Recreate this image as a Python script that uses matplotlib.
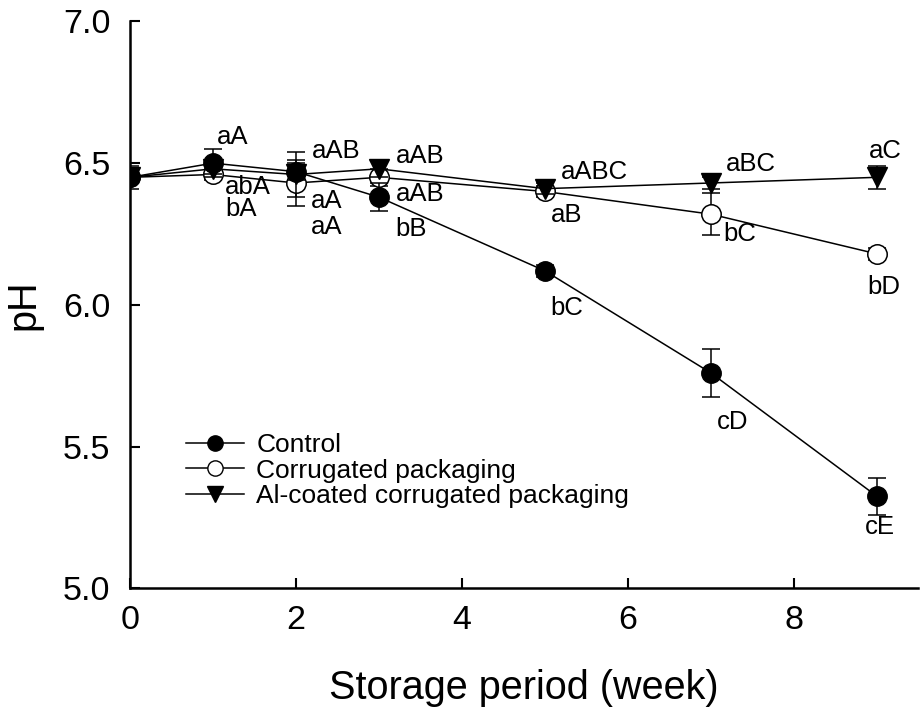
import numpy as np
import matplotlib.pyplot as plt
from matplotlib.lines import Line2D

plt.rcParams['font.family'] = ['Liberation Sans', 'DejaVu Sans']

weeks = [0, 1, 2, 3, 5, 7, 9]

control = [6.45, 6.50, 6.47, 6.38, 6.12, 5.76, 5.325]
control_err = [0.04, 0.05, 0.03, 0.05, 0.02, 0.085, 0.065]
control_lab = ["", "aA", "aA", "bB", "bC", "cD", "cE"]

corr = [6.45, 6.46, 6.43, 6.45, 6.40, 6.32, 6.18]
corr_err = [0.02, 0.02, 0.08, 0.03, 0.02, 0.075, 0.02]
corr_lab = ["", "bA", "aA", "aAB", "aB", "bC", "bD"]

alc = [6.45, 6.48, 6.46, 6.48, 6.41, 6.43, 6.45]
alc_err = [0.02, 0.02, 0.08, 0.03, 0.02, 0.02, 0.04]
alc_lab = ["", "abA", "aAB", "aAB", "aABC", "aBC", "aC"]

# label offsets in points (dx, dy)
control_off = [(0, 0), (14, 19), (22, -40), (23, -23), (16, -27), (16, -35), (2, -22)]
corr_off = [(0, 0), (20, -25), (22, -13), (30, -12), (16, -17), (21, -14), (5, -24)]
alc_off = [(0, 0), (25, -13), (29, 17), (30, 9), (36, 12), (29, 14), (6, 19)]

fig = plt.figure(figsize=(9.22, 7.14), dpi=100)
ax = fig.add_axes([0.141, 0.176, 0.855, 0.794])

kw = dict(color='black', lw=1.1, ms=14, capsize=6.5, elinewidth=1.1, capthick=1.1)
ax.errorbar(weeks, corr, yerr=corr_err, marker='o', mfc='white', mec='black', mew=1.1,
            zorder=3, **kw)
ax.errorbar(weeks, alc, yerr=alc_err, marker='v', mfc='black', mec='black',
            zorder=4, **kw)
ax.errorbar(weeks, control, yerr=control_err, marker='o', mfc='black', mec='black',
            zorder=5, **kw)

for ys, labs, offs in [(control, control_lab, control_off), (corr, corr_lab, corr_off),
                       (alc, alc_lab, alc_off)]:
    for x, y, t, o in zip(weeks, ys, labs, offs):
        if t:
            ax.annotate(t, (x, y), xytext=o, textcoords='offset points',
                        ha='center', va='center', fontsize=18.5)

ax.set_xlim(0, 9.5)
ax.set_ylim(5.0, 7.0)
ax.set_xticks([0, 2, 4, 6, 8])
ax.set_yticks([5.0, 5.5, 6.0, 6.5, 7.0])
ax.set_yticklabels(['5.0', '5.5', '6.0', '6.5', '7.0'])
ax.tick_params(direction='in', length=7, width=1.5, labelsize=24.5)
ax.tick_params(axis='y', pad=14)
ax.tick_params(axis='x', pad=12)
for s in ['top', 'right']:
    ax.spines[s].set_visible(False)
for s in ['left', 'bottom']:
    ax.spines[s].set_linewidth(1.8)
ax.set_xlabel('Storage period (week)', fontsize=28.5, labelpad=24)
ax.set_ylabel('pH', fontsize=28.5, labelpad=15)

handles = [
    Line2D([], [], color='black', lw=1.1, marker='o', ms=11, mfc='black', mec='black'),
    Line2D([], [], color='black', lw=1.1, marker='o', ms=11, mfc='white', mec='black'),
    Line2D([], [], color='black', lw=1.1, marker='v', ms=11, mfc='black', mec='black'),
]
labels = ['Control', 'Corrugated packaging', 'Al-coated corrugated packaging']
ax.legend(handles, labels, loc='upper left', bbox_to_anchor=(0.058, 0.292),
          frameon=False, fontsize=19, handlelength=2.2, handletextpad=0.45,
          labelspacing=0.05, borderaxespad=0)

fig.savefig('out.png', dpi=100)
